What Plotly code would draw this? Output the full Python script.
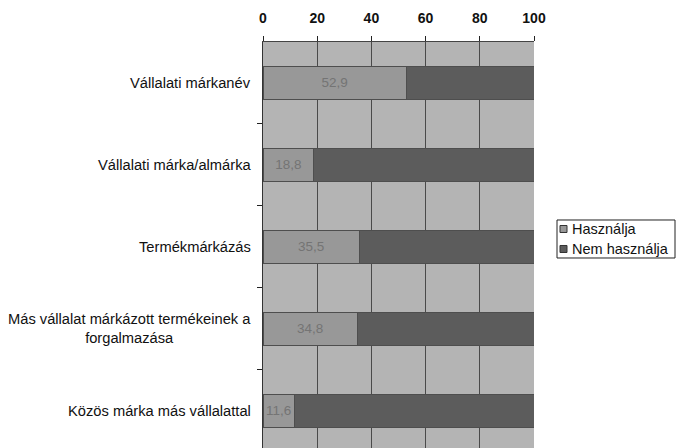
import plotly.graph_objects as go

categories = [
    "Vállalati márkanév",
    "Vállalati márka/almárka",
    "Termékmárkázás",
    "Más vállalat márkázott termékeinek a<br>forgalmazása",
    "Közös márka más vállalattal",
]
series_names = ["Használja", "Nem használja"]
hasznalja = [52.9, 18.8, 35.5, 34.8, 11.6]
nem_hasznalja = [47.1, 81.2, 64.5, 65.2, 88.4]
x_ticks = [0, 20, 40, 60, 80, 100]
value_labels = ["52,9", "18,8", "35,5", "34,8", "11,6"]

series_colors = ["#989898", "#5c5c5c"]
edge_color = "#4e4e4e"
pos = list(range(len(categories)))
font_family = "Liberation Sans, Arial, sans-serif"

fig = go.Figure()
fig.add_trace(go.Bar(
    name=series_names[0], y=pos, x=hasznalja, orientation="h",
    marker=dict(color=series_colors[0], line=dict(color=edge_color, width=1)),
    width=0.4, text=value_labels, textposition="inside",
    insidetextanchor="middle",
    textfont=dict(color="#747474", size=13.5, family=font_family),
    hoverinfo="skip", showlegend=False,
))
fig.add_trace(go.Bar(
    name=series_names[1], y=pos, x=nem_hasznalja, orientation="h",
    marker=dict(color=series_colors[1], line=dict(color=edge_color, width=1)),
    width=0.4, hoverinfo="skip", showlegend=False,
))

# Category labels, each line centred, block right-aligned against the axis
for p, c in zip(pos, categories):
    fig.add_annotation(
        x=-0.037, xref="paper", y=p, yref="y", text=c, showarrow=False,
        xanchor="right", yanchor="middle", align="center",
        font=dict(size=14.7, color="#111111", family=font_family),
    )

# Compact boxed legend to the right of the plot
fig.add_shape(type="rect", xref="paper", yref="paper",
              x0=1.0849, x1=1.5203, y0=0.468, y1=0.5616,
              line=dict(color="#222222", width=1), fillcolor="white")
rows = [(0.5308, 0.548), (0.4815, 0.4988)]
for name, color, (y0, y1) in zip(series_names, series_colors, rows):
    fig.add_shape(type="rect", xref="paper", yref="paper",
                  x0=1.0959, x1=1.1218, y0=y0, y1=y1,
                  line=dict(color="#333333", width=1), fillcolor=color)
    fig.add_annotation(
        x=1.1330, xref="paper", y=(y0 + y1) / 2, yref="paper", text=name,
        showarrow=False, xanchor="left", yanchor="middle",
        font=dict(size=14.5, color="#111111", family=font_family),
    )

fig.update_layout(
    width=678, height=448,
    margin=dict(l=263, r=144, t=42, b=0),
    paper_bgcolor="white", plot_bgcolor="#b4b4b4",
    barmode="stack", bargap=0.6,
    showlegend=False,
    xaxis=dict(
        side="top", range=[0, 100], tickvals=x_ticks,
        ticks="outside", ticklen=5, tickcolor="#222222",
        ticklabelstandoff=7,
        showgrid=True, gridcolor="#4a4a4a", gridwidth=1,
        showline=True, linecolor="#444444", linewidth=1,
        tickfont=dict(size=14, color="#111111", family=font_family,
                      weight="bold"),
        zeroline=False, fixedrange=True,
    ),
    yaxis=dict(
        range=[4.455, -0.5], tickvals=[0.5, 1.5, 2.5, 3.5],
        ticktext=["", "", "", ""], ticks="outside", ticklen=5,
        tickcolor="#222222", showgrid=False, zeroline=False,
        showline=True, linecolor="#333333", linewidth=1,
        fixedrange=True,
    ),
)

fig.write_html("out.html")
